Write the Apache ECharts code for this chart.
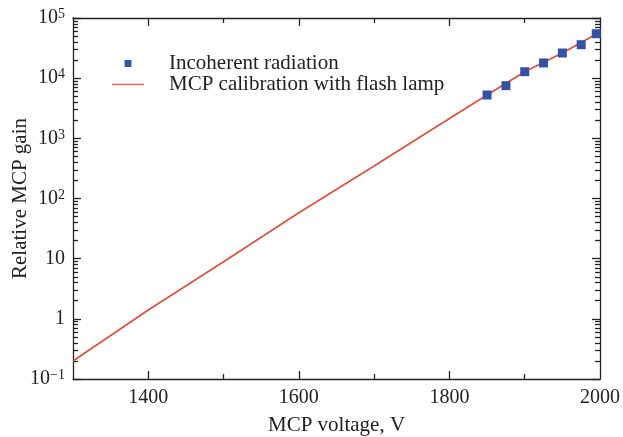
<!DOCTYPE html>
<html><head><meta charset="utf-8">
<script src="https://cdn.jsdelivr.net/npm/echarts@6/dist/echarts.min.js"></script>
<style>html,body{margin:0;padding:0;background:#fff}#c{width:623px;height:437px}</style>
</head><body><div id="c"></div>
<script>
const FONT = "'Liberation Serif','Times New Roman',serif";
const xMajorTicks = [1400, 1600, 1800];
const xLabels = [1400, 1600, 1800, 2000];
const xMinorTicks = [1500, 1700, 1900];
const yDecades = [0.1, 1, 10, 100, 1000, 10000, 100000];
const yMinorTicks = [0.2, 0.3, 0.4, 0.5, 0.6, 0.7, 0.8, 0.9,
  2, 3, 4, 5, 6, 7, 8, 9,
  20, 30, 40, 50, 60, 70, 80, 90,
  200, 300, 400, 500, 600, 700, 800, 900,
  2000, 3000, 4000, 5000, 6000, 7000, 8000, 9000,
  20000, 30000, 40000, 50000, 60000, 70000, 80000, 90000];

const incoherentV = [1850, 1875, 1900, 1925, 1950, 1975, 1995];
const incoherentGain = [5250, 7500, 12800, 17900, 26200, 36000, 54800];
const calibV = [1300, 1400, 1500, 1600, 1700, 1800, 1850, 1900, 1950, 2000];
const calibGain = [0.2, 1.4, 8.9, 58, 347, 2130, 5250, 12800, 26200, 58500];

const AX = '#222';
const lineStyle = {color: AX, width: 1.3};

function yFmt(v) {
  const e = Math.round(Math.log10(v));
  if (e === 0) return '{b|1}';
  if (e === 1) return '{b|10}';
  return '{b|10}{s|' + (e < 0 ? '\u2212' + (-e) : e) + '}';
}
const rich = {
  b: {fontSize: 20, fontFamily: FONT, color: AX},
  s: {fontSize: 14, fontFamily: FONT, color: AX, padding: [0, 0, 7, 0]}
};

function xAx(pos, ticks, len, main) {
  return {
    type: 'value', min: 1300, max: 2000, position: pos,
    axisLine: {show: main, onZero: false, lineStyle},
    axisTick: {show: true, inside: true, length: len, customValues: ticks, lineStyle},
    axisLabel: (main && pos === 'bottom') ? {customValues: xLabels, formatter: v => String(v), fontSize: 20, fontFamily: FONT, color: AX, margin: 9} : {show: false},
    splitLine: {show: false},
    name: (main && pos === 'bottom') ? 'MCP voltage, V' : '',
    nameLocation: 'middle', nameGap: 36, nameMoveOverlap: false,
    nameTextStyle: {fontSize: 21, fontFamily: FONT, color: AX}
  };
}
function yAx(pos, ticks, len, main) {
  return {
    type: 'log', logBase: 10, min: 0.1, max: 100000, position: pos,
    axisLine: {show: main, onZero: false, lineStyle},
    axisTick: {show: true, inside: true, length: len, customValues: ticks, lineStyle},
    axisLabel: (main && pos === 'left') ? {customValues: yDecades, formatter: yFmt, rich, margin: 8} : {show: false},
    minorTick: {show: false},
    splitLine: {show: false},
    name: (main && pos === 'left') ? 'Relative MCP gain' : '',
    nameLocation: 'middle', nameGap: 42, nameMoveOverlap: false,
    nameTextStyle: {fontSize: 21, fontFamily: FONT, color: AX}
  };
}

const chart = echarts.init(document.getElementById('c'), null, {renderer: 'canvas'});
chart.setOption({
  animation: false,
  backgroundColor: '#fff',
  grid: {left: 73, right: 23, top: 18, bottom: 58, containLabel: false, outerBoundsMode: 'none'},
  legend: {
    orient: 'vertical', left: 112, top: 53, padding: 0,
    itemWidth: 32, itemHeight: 7, itemGap: 0,
    textStyle: {fontSize: 21, fontFamily: FONT, color: AX, padding: [0, 0, 0, 20]},
    data: [
      {name: 'Incoherent radiation', icon: 'path://M0,0L1,0L1,1L0,1Z'},
      {name: 'MCP calibration with flash lamp', icon: 'path://M0,0L32,0L32,1.6L0,1.6Z', itemStyle: {color: '#e0705f'}}
    ]
  },
  xAxis: [
    xAx('bottom', xMajorTicks, 8, true),
    xAx('bottom', xMinorTicks, 5, false),
    xAx('top', xMajorTicks, 8, true),
    xAx('top', xMinorTicks, 5, false)
  ],
  yAxis: [
    yAx('left', yDecades, 8, true),
    yAx('left', yMinorTicks, 5, false),
    yAx('right', yDecades, 8, true),
    yAx('right', yMinorTicks, 5, false)
  ],
  series: [
    {
      name: 'MCP calibration with flash lamp', type: 'line',
      xAxisIndex: 0, yAxisIndex: 0,
      data: calibV.map((v, i) => [v, calibGain[i]]),
      showSymbol: false, symbol: 'none',
      lineStyle: {color: '#d65646', width: 1.8},
      itemStyle: {color: '#d65646'},
      z: 2
    },
    {
      name: 'Incoherent radiation', type: 'scatter',
      xAxisIndex: 0, yAxisIndex: 0,
      data: incoherentV.map((v, i) => [v, incoherentGain[i]]),
      symbol: 'rect', symbolSize: 9,
      itemStyle: {color: '#3551a4', opacity: 1},
      z: 3
    }
  ]
});
</script></body></html>
